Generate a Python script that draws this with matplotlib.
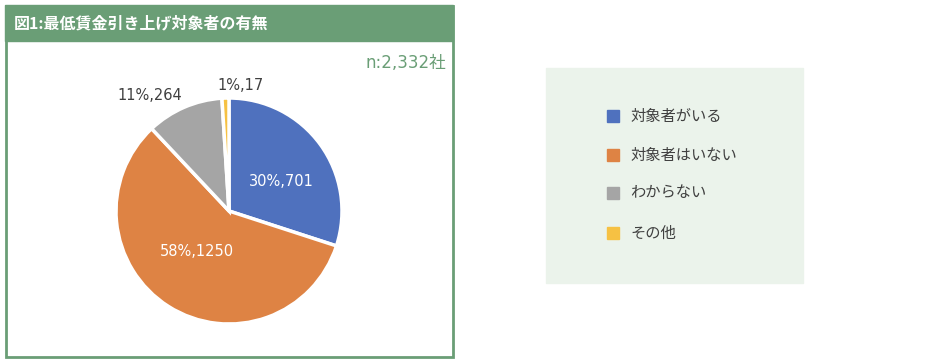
import matplotlib
matplotlib.use("Agg")
import matplotlib.pyplot as plt
from matplotlib.patches import Rectangle

plt.rcParams['font.family'] = ['Noto Sans CJK JP', 'DejaVu Sans']

# data
labels = ['対象者がいる', '対象者はいない', 'わからない', 'その他']
counts = [701, 1250, 264, 17]
pcts = [30, 58, 11, 1]
colors = ['#4F71BE', '#DE8344', '#A5A5A5', '#F6C143']
title = '図1:最低賃金引き上げ対象者の有無'
n_label = 'n:2,332社'

W, H = 930, 362
fig = plt.figure(figsize=(W / 100, H / 100), dpi=100)
green = '#6A9E76'

# frame and title bar
bg = fig.add_axes([0, 0, 1, 1], zorder=0)
bg.set_xlim(0, W); bg.set_ylim(H, 0); bg.axis('off')
bg.add_patch(Rectangle((5.5, 5.5), 447, 351, fill=False, ec=green, lw=2))
bg.add_patch(Rectangle((5, 5), 448, 36, color=green))
bg.text(14, 23, title, color='white', fontsize=11.5, fontweight='bold', va='center')
bg.text(446, 63, n_label, color=green, fontsize=12, ha='right', va='center',
        family=['DejaVu Sans', 'Noto Sans CJK JP'])

# legend box
bg.add_patch(Rectangle((546, 68), 257, 215, color='#EBF3EB'))
ys = [116, 155, 193, 233]
for lab, c, y in zip(labels, colors, ys):
    bg.add_patch(Rectangle((607, y - 6), 12, 12, color=c))
    bg.text(630, y, lab, color='#404040', fontsize=11, va='center')

# pie (wedges follow the percentages, as in the original)
cx, cy, r = 229, 211, 113
half = 125
ax = fig.add_axes([(cx - half) / W, 1 - (cy + half) / H, 2 * half / W, 2 * half / H], zorder=1)
ax.pie(pcts, colors=colors, startangle=90, counterclock=False, radius=1,
       wedgeprops=dict(edgecolor='white', linewidth=2.5))
lim = half / r
ax.set_xlim(-lim, lim); ax.set_ylim(-lim, lim)
ax.set_aspect('equal')
ax.axis('off')

txt = [f'{p}%,{c}' for p, c in zip(pcts, counts)]
pos = [(281, 181, 'white'), (197, 251, 'white'), (150, 96, '#404040'), (241, 85, '#404040')]
for t, (x, y, col) in zip(txt, pos):
    fig.text(x / W, 1 - y / H, t, color=col, fontsize=10.5, ha='center', va='center',
             family=['DejaVu Sans', 'Noto Sans CJK JP'], zorder=5)

fig.savefig('out.png', dpi=100)
